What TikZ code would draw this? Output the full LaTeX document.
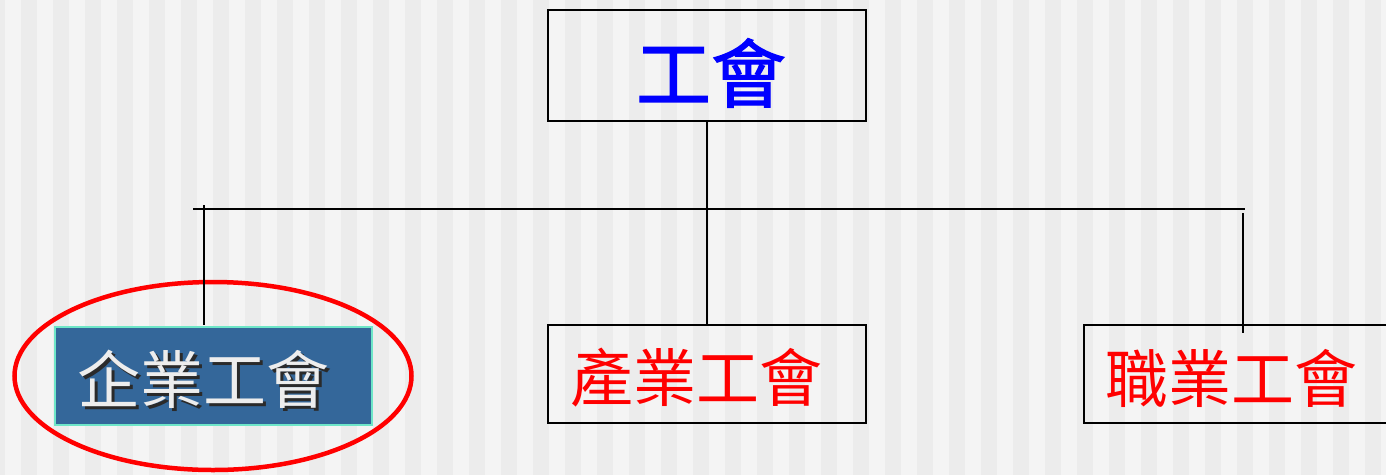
\documentclass[tikz,border=0pt]{standalone}
\usepackage{fontspec}
\usetikzlibrary{shapes.geometric}
\newfontfamily\cjk{Noto Sans CJK TC}
\newfontfamily\cjkfb[FakeBold=1.6]{Noto Sans CJK TC}
\definecolor{stripeA}{HTML}{F4F4F4}
\definecolor{stripeB}{HTML}{ECECEC}
\definecolor{topblue}{HTML}{0000FF}
\definecolor{boxblue}{HTML}{34679A}
\definecolor{aqua}{HTML}{6EE6C8}
\definecolor{txtred}{HTML}{FF0000}
\definecolor{shadowgray}{HTML}{2A2A2A}
\newcommand{\shadowtext}[1]{\makebox[0pt][l]{\raisebox{-3pt}{\hspace{3pt}\textcolor{shadowgray}{#1}}}#1}
\tikzset{
  orgbox/.style={draw=black, line width=1.6pt, minimum width=318pt, inner sep=0pt},
  lbl/.style={font=\cjk\fontsize{63}{63}\selectfont, inner sep=0pt},
  conn/.style={draw=black, line width=1.6pt}
}
\begin{document}
\begin{tikzpicture}[x=1pt,y=-1pt]
\useasboundingbox (0,0) rectangle (1386,475);
\clip (0,0) rectangle (1386,475);
\fill[stripeB] (0,0) rectangle (1386,475);
\foreach \i in {0,...,43} \fill[stripeA] (5+32*\i,0) rectangle (21+32*\i,475);
% boxes
\node[orgbox, minimum height=111pt] (top) at (707,65.5) {};
\node[font=\cjkfb\fontsize{75}{75}\selectfont, text=topblue, inner sep=0pt] (toplbl) at (711,73) {工會};
\node[orgbox, minimum height=98pt] (mid) at (707,374) {};
\node[lbl, text=txtred] (midlbl) at (696,378) {產業工會};
\node[orgbox, minimum height=98pt] (right) at (1243,374) {};
\node[lbl, text=txtred] (rightlbl) at (1231,378) {職業工會};
\node[draw=aqua, fill=boxblue, line width=1.6pt, minimum width=317pt, minimum height=98pt, inner sep=0pt] (left) at (213.5,376) {};
\node[lbl, text=white!93!black] (leftlbl) at (203,381) {\shadowtext{企業工會}};
\node[draw=red, line width=4.5pt, ellipse, minimum width=397pt, minimum height=188pt, inner sep=0pt] (ring) at (213,376) {};
% connectors
\coordinate (barL) at (193,209);
\coordinate (barR) at (1245,209);
\coordinate (lTop) at (204,205);
\coordinate (lBot) at (204,325);
\coordinate (rTop) at (1243,213);
\coordinate (rBot) at (1243,333);
\draw[conn] (barL) -- (barR);
\draw[conn] (top.south) -- (mid.north);
\draw[conn] (lTop) -- (lBot);
\draw[conn] (rTop) -- (rBot);
\end{tikzpicture}
\end{document}
